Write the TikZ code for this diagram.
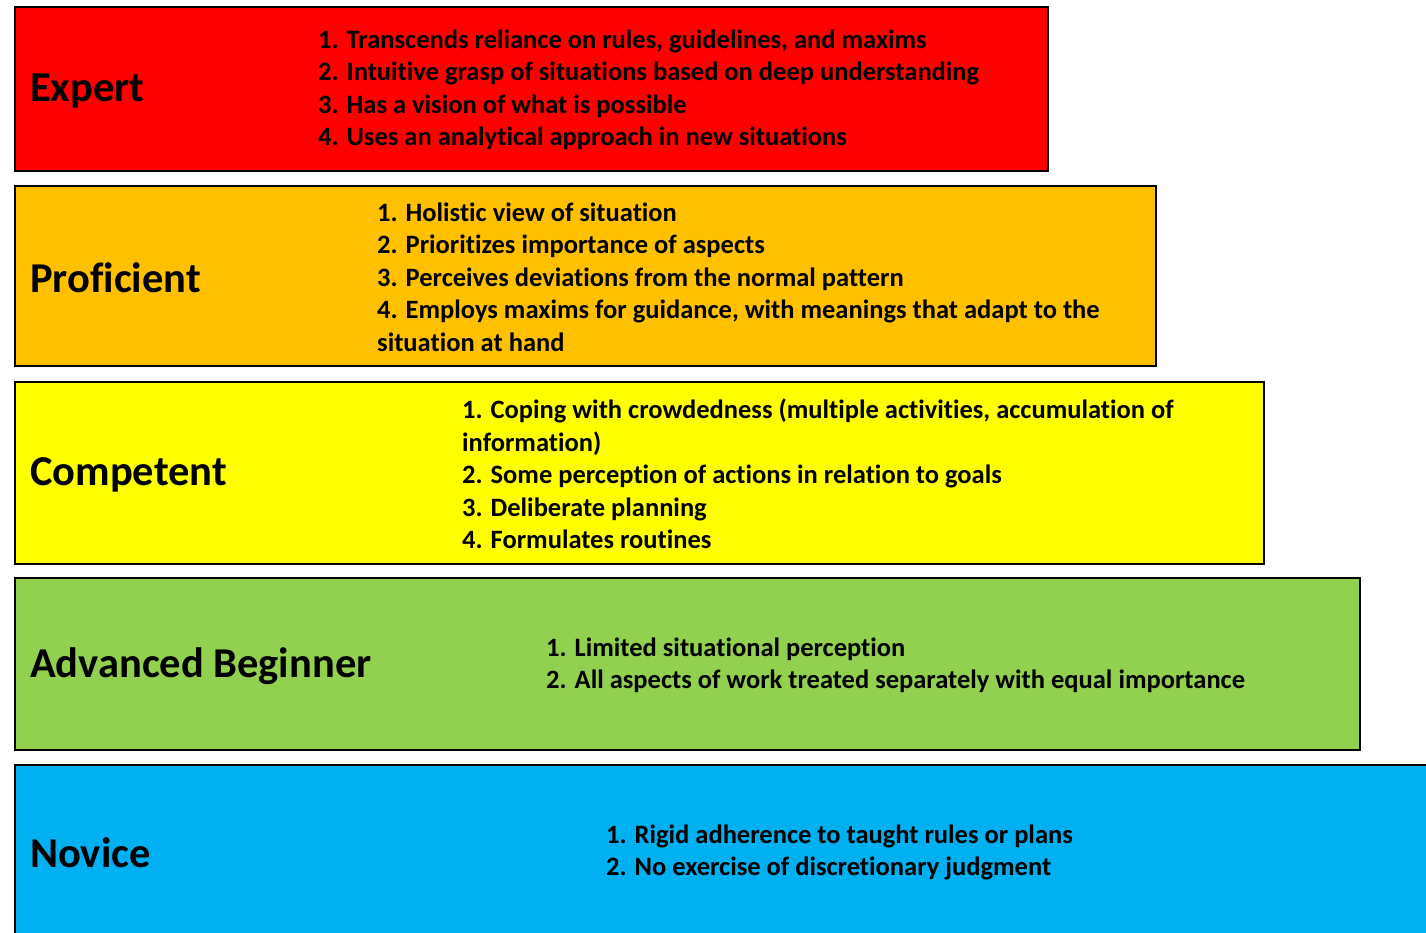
\documentclass[tikz,border=0pt]{standalone}
\usepackage{fontspec}
\setmainfont{Carlito}[Ligatures=NoCommon]
\definecolor{cExpert}{HTML}{FF0000}
\definecolor{cProf}{HTML}{FFC000}
\definecolor{cComp}{HTML}{FFFF00}
\definecolor{cAdv}{HTML}{92D050}
\definecolor{cNov}{HTML}{00B0F0}
\begin{document}
\begin{tikzpicture}[x=1pt,y=-1pt,
  lvl/.style={draw=black, line width=2pt, anchor=north west, inner sep=0pt},
  title/.style={anchor=west, inner sep=0pt, font=\bfseries\fontsize{42.5}{50}\selectfont},
  items/.style={anchor=west, inner sep=0pt, align=left, font=\bfseries\fontsize{26.5}{32.5}\selectfont}]
\useasboundingbox (0,0) rectangle (1426,932);
\clip (0,0) rectangle (1426,932);
\node[lvl, fill=cExpert, minimum width=1033pt, minimum height=164pt] (expert) at (14,6) {};
\node[lvl, fill=cProf, minimum width=1141pt, minimum height=180pt] (prof) at (14,185) {};
\node[lvl, fill=cComp, minimum width=1249pt, minimum height=182pt] (comp) at (14,381) {};
\node[lvl, fill=cAdv, minimum width=1345pt, minimum height=172pt] (adv) at (14,577) {};
\node[lvl, fill=cNov, minimum width=1440pt, minimum height=190pt] (nov) at (14,764) {};

\node[title] (texpert) at (30,91) {Expert};
\node[title] (tprof) at (30,278) {Proficient};
\node[title] (tcomp) at (30,475) {Competent};
\node[title] (tadv) at (30,666) {Advanced Beginner};
\node[title] (tnov) at (30,853) {Novice};

\node[items] (iexpert) at (318,90) {1. Transcends reliance on rules, guidelines, and maxims\\
2. Intuitive grasp of situations based on deep understanding\\
3. Has a vision of what is possible\\
4. Uses an analytical approach in new situations};
\node[items] (iprof) at (377,277) {1. Holistic view of situation\\
2. Prioritizes importance of aspects\\
3. Perceives deviations from the normal pattern\\
4. Employs maxims for guidance, with meanings that adapt to the\\
situation at hand};
\node[items] (icomp) at (462,474) {1. Coping with crowdedness (multiple activities, accumulation of\\
information)\\
2. Some perception of actions in relation to goals\\
3. Deliberate planning\\
4. Formulates routines};
\node[items] (iadv) at (546,665.5) {1. Limited situational perception\\
2. All aspects of work treated separately with equal importance};
\node[items] (inov) at (606,852.5) {1. Rigid adherence to taught rules or plans\\
2. No exercise of discretionary judgment};
\end{tikzpicture}
\end{document}
